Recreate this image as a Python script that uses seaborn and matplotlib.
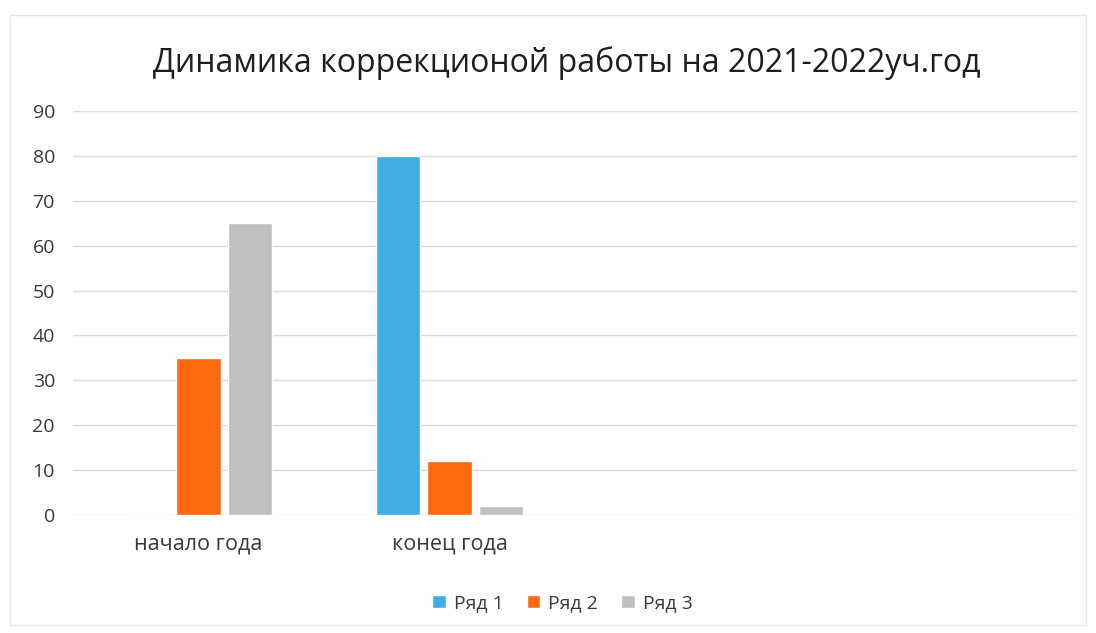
import matplotlib
matplotlib.use("Agg")
import matplotlib.pyplot as plt
import pandas as pd
import seaborn as sns

# chart data
categories = ["начало года", "конец года"]
series = ["Ряд 1", "Ряд 2", "Ряд 3"]
row1 = [0, 80]
row2 = [35, 12]
row3 = [65, 2]
y_ticks = [0, 10, 20, 30, 40, 50, 60, 70, 80, 90]
title = "Динамика коррекционой работы на 2021-2022уч.год"
n_slots = 4  # Excel axis keeps two empty categories on the right

colors = ["#3FAEE2", "#FF6A10", "#C2C0BE"]

df = pd.DataFrame({
    "cat": categories * 3,
    "series": [s for s in series for _ in categories],
    "value": row1 + row2 + row3,
})

sns.set_theme(style="white")
plt.rcParams["font.family"] = ["Open Sans", "DejaVu Sans"]

fig = plt.figure(figsize=(10.96, 6.33), dpi=100)
ax = fig.add_axes([0.0666, 0.1864, 0.9161, 0.6382])

sns.barplot(data=df, x="cat", y="value", hue="series", order=categories,
            hue_order=series, palette=colors, width=0.62, gap=0.15,
            saturation=1, ax=ax)

ax.set_xlim(-0.5, n_slots - 0.5)
ax.set_ylim(0, 90)
ax.set_yticks(y_ticks)
ax.yaxis.grid(True, color="#DADADA", linewidth=1)
ax.set_axisbelow(True)
for sp in ax.spines.values():
    sp.set_visible(False)
ax.tick_params(axis="both", length=0, colors="#3A3A3A")
ax.tick_params(axis="y", pad=13, labelsize=14)
ax.tick_params(axis="x", pad=13, labelsize=15.5)
ax.set_xlabel("")
ax.set_ylabel("")

fig.suptitle(title, x=0.517, y=0.927, fontsize=23, color="#1E1E1E")

handles, labels = ax.get_legend_handles_labels()
ax.legend_.remove()
fig.legend(handles, labels, loc="center", bbox_to_anchor=(0.513, 0.047),
           ncol=3, frameon=False, fontsize=14, handlelength=0.7,
           handleheight=0.7, handletextpad=0.4, columnspacing=1.2,
           labelcolor="#3A3A3A")

# faint chart border as in the scanned Excel chart
fig.patches.append(plt.Rectangle((0.009, 0.012), 0.982, 0.965,
                                 transform=fig.transFigure, fill=False,
                                 edgecolor="#E6E6E6", linewidth=1))

fig.savefig("out.png", dpi=100, facecolor="white")
